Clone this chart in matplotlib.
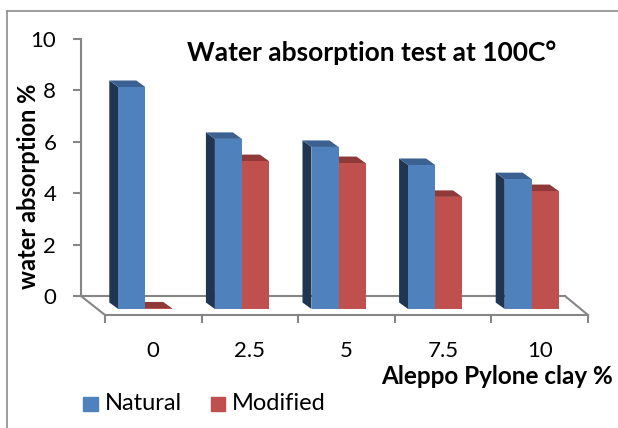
import matplotlib
matplotlib.use("Agg")
import matplotlib.pyplot as plt
from matplotlib.patches import Rectangle
from matplotlib.lines import Line2D
import numpy as np

plt.rcParams['font.family'] = ['Lato', 'DejaVu Sans']

# data
clay = ['0', '2.5', '5', '7.5', '10']
natural = [8.0, 6.13, 5.84, 5.19, 4.68]
modified = [0.02, 5.33, 5.26, 4.04, 4.25]

W, H = 618, 428
fig = plt.figure(figsize=(W / 100, H / 100), dpi=100)


def fx(x):
    return x / W


def fy(y):
    return 1 - y / H


grey = '#868686'

# chart border (top and left only visible)
fig.add_artist(Line2D([fx(6.5), fx(618)], [fy(10.5), fy(10.5)], color='#8c8c8c', lw=1.2))
fig.add_artist(Line2D([fx(6.5), fx(6.5)], [fy(10.5), fy(428)], color='#8c8c8c', lw=1.2))

# back wall axes: value axis
ax = fig.add_axes([fx(81), fy(296), fx(565) - fx(81), fy(39) - fy(296)])
ax.set_facecolor('none')
ax.set_ylim(0, 10)
ax.set_xlim(0, 1)
ax.set_xticks([])
ax.set_yticks(np.arange(0, 11, 2))
for s in ['top', 'right']:
    ax.spines[s].set_visible(False)
for s in ['left', 'bottom']:
    ax.spines[s].set_color(grey)
    ax.spines[s].set_linewidth(1.5)
ax.tick_params(axis='y', direction='out', length=5.8, width=1.5, color=grey,
               pad=12, labelsize=16)

# floor side edges
fig.add_artist(Line2D([fx(81), fx(105)], [fy(296), fy(315)], color=grey, lw=1.5))
fig.add_artist(Line2D([fx(565), fx(588)], [fy(296), fy(315)], color=grey, lw=1.5))

# bars axes (front of the floor)
Y_SCALE = 27.75  # px per unit
bx_bottom, bx_top = 309, 39
bx = fig.add_axes([fx(105), fy(bx_bottom), fx(588) - fx(105), fy(bx_top) - fy(bx_bottom)])
bx.set_facecolor('none')
bx.set_xlim(-0.5, 4.5)
bx.set_ylim(0, (bx_bottom - bx_top) / Y_SCALE)
for s in ['top', 'right', 'left']:
    bx.spines[s].set_visible(False)
bx.spines['bottom'].set_position(('outward', 4.3))
bx.spines['bottom'].set_color(grey)
bx.spines['bottom'].set_linewidth(1.5)
bx.set_yticks([])
bx.set_xticks(range(len(clay)))
bx.set_xticklabels(clay)
bx.set_xticks(np.arange(-0.5, 4.6, 1), minor=True)
bx.tick_params(axis='x', which='major', length=0, pad=19, labelsize=16)
bx.tick_params(axis='x', which='minor', direction='out', length=5.8, width=1.5, color=grey)

px_x = 5 / (588 - 105)  # data units per px on x
dx = -9 * px_x
dy = 6.5 / Y_SCALE
bw = 27 * px_x
x = np.arange(len(clay))
x_nat = x - 21.5 * px_x
x_mod = x + 5.5 * px_x


def box3d(xc, h, side, top):
    xl, xr = xc - bw / 2, xc + bw / 2
    bx.fill([xl, xl, xl + dx, xl + dx], [0, h, h + dy, dy], color=side, lw=0, zorder=1)
    bx.fill([xl, xr, xr + dx, xl + dx], [h, h, h + dy, h + dy], color=top, lw=0, zorder=1)


for i in range(len(clay)):
    box3d(x_mod[i], modified[i], '#5a1f1e', '#8f3a38')
    box3d(x_nat[i], natural[i], '#1f3552', '#3b6192')
bx.bar(x_mod, modified, width=bw, color='#C0504D', zorder=2)
bx.bar(x_nat, natural, width=bw, color='#4F81BD', zorder=3)

# texts
fig.text(fx(372), fy(53), 'Water absorption test at 100C°', ha='center', va='center',
         fontsize=19, fontweight='bold')
fig.text(fx(29), fy(186), 'water absorption %', rotation=90, ha='center', va='center',
         fontsize=17, fontweight='bold')
fig.text(fx(613), fy(376), 'Aleppo Pylone clay %', ha='right', va='center',
         fontsize=17.5, fontweight='bold')

# legend
fig.add_artist(Rectangle((fx(83), fy(411)), fx(15), fy(397) - fy(411), color='#4F81BD'))
fig.text(fx(105), fy(403), 'Natural', ha='left', va='center', fontsize=17)
fig.add_artist(Rectangle((fx(211), fy(411)), fx(14), fy(397) - fy(411), color='#C0504D'))
fig.text(fx(232), fy(403), 'Modified', ha='left', va='center', fontsize=17)

fig.savefig('out.png', dpi=100)
